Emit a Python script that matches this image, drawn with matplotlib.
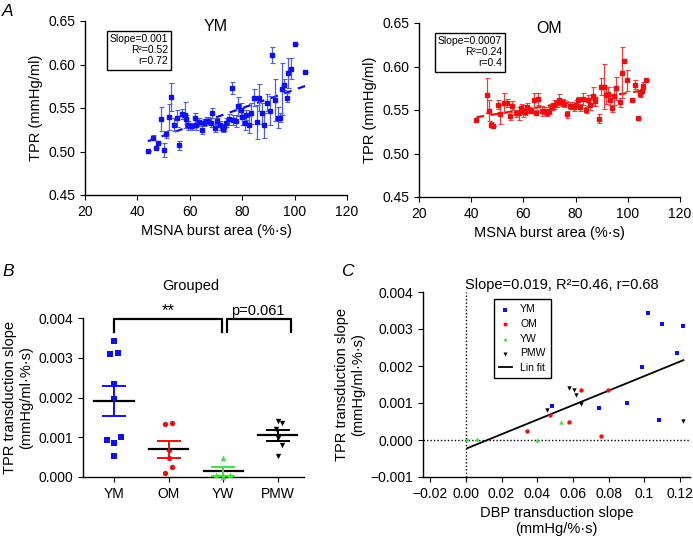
import numpy as np
import matplotlib
matplotlib.use("Agg")
import matplotlib.pyplot as plt

plt.rcParams['font.family'] = ['Liberation Sans', 'DejaVu Sans']
plt.rcParams['font.size'] = 10.5
plt.rcParams['xtick.labelsize'] = 10
plt.rcParams['ytick.labelsize'] = 10
plt.rcParams['axes.linewidth'] = 1.0
plt.rcParams['xtick.major.size'] = 3.5
plt.rcParams['ytick.major.size'] = 3.5

# Panel A: TPR vs MSNA burst area, young men (YM)
ym_area = [44, 46, 47, 48, 49, 50, 51, 52, 53, 54, 55, 56, 57, 58, 58.5, 59.5, 60, 61,
           62, 62.5, 63.5, 64.5, 65.5, 66, 67, 68, 68.5, 69.5, 70.5, 71.5, 72.5, 73, 74,
           75, 76, 76.5, 77.5, 78.5, 79.5, 80, 81, 81.5, 82.5, 83.5, 84.5, 85.5, 86.5,
           87.5, 88.5, 89.5, 90.5, 91.5, 92.5, 93.5, 94.5, 95, 96, 97, 97.5, 98.5, 100, 104]
ym_tpr = [0.501, 0.516, 0.504, 0.510, 0.537, 0.502, 0.520, 0.540, 0.563, 0.531, 0.538,
          0.507, 0.543, 0.542, 0.537, 0.530, 0.529, 0.529, 0.538, 0.530, 0.534, 0.525,
          0.533, 0.535, 0.535, 0.533, 0.544, 0.527, 0.535, 0.530, 0.526, 0.528, 0.533,
          0.537, 0.573, 0.536, 0.535, 0.552, 0.548, 0.540, 0.533, 0.542, 0.531, 0.544,
          0.562, 0.534, 0.562, 0.544, 0.530, 0.556, 0.547, 0.611, 0.559, 0.539, 0.539,
          0.572, 0.577, 0.562, 0.590, 0.595, 0.624, 0.591]
ym_err = [0, 0.003, 0, 0, 0.014, 0.008, 0.004, 0.015, 0.016, 0.008, 0.010, 0.005, 0.006,
          0.015, 0.005, 0.005, 0.004, 0.004, 0.006, 0.005, 0.005, 0.005, 0.004, 0.005,
          0.005, 0.005, 0.006, 0.005, 0.004, 0.005, 0.004, 0.004, 0.005, 0.006, 0.007,
          0.006, 0.007, 0.011, 0.008, 0.010, 0.008, 0.006, 0.010, 0.012, 0.010, 0.020,
          0.016, 0.012, 0.014, 0.010, 0.017, 0.009, 0.024, 0.012, 0.005, 0.030, 0.006,
          0.005, 0.017, 0.012, 0, 0]

# Panel A: older men (OM)
om_area = [42, 46, 47, 47.7, 48.3, 50.2, 51, 52.6, 53.6, 54.8, 55.8, 57.2, 58.2, 59, 59.7,
           60.6, 61.3, 62, 62.8, 64, 65, 65.7, 67, 68, 69, 69.7, 70.8, 71.8, 72.7, 73.7,
           74.6, 75.6, 76.8, 77.8, 78.6, 79.4, 80.2, 81, 81.8, 82.8, 83.8, 84.8, 85.6,
           86.6, 87.6, 88.8, 89.8, 90.7, 91.7, 92.5, 93, 93.9, 94.9, 95.5, 96.9, 97.7,
           98.7, 99.7, 101.7, 102.9, 103.9, 104.7, 105.4, 106, 106.9]
om_tpr = [0.538, 0.567, 0.549, 0.533, 0.532, 0.556, 0.545, 0.558, 0.558, 0.543, 0.555,
          0.546, 0.546, 0.552, 0.549, 0.548, 0.554, 0.550, 0.549, 0.561, 0.547, 0.563,
          0.549, 0.549, 0.547, 0.549, 0.554, 0.556, 0.558, 0.562, 0.559, 0.557, 0.545,
          0.555, 0.555, 0.553, 0.556, 0.561, 0.553, 0.563, 0.550, 0.561, 0.556, 0.566,
          0.560, 0.540, 0.577, 0.577, 0.567, 0.568, 0.561, 0.552, 0.566, 0.575, 0.559,
          0.593, 0.606, 0.584, 0.562, 0.579, 0.541, 0.568, 0.572, 0.578, 0.584]
om_err = [0, 0.020, 0.012, 0.003, 0, 0.005, 0.011, 0.011, 0.005, 0.005, 0.005, 0.004,
          0.007, 0.005, 0.007, 0.004, 0.004, 0.004, 0.003, 0.009, 0.003, 0.007, 0.006,
          0.004, 0.004, 0.004, 0.004, 0.005, 0.004, 0.006, 0.004, 0.004, 0.004, 0.004,
          0.004, 0.004, 0.005, 0.004, 0.004, 0.007, 0.004, 0.006, 0.006, 0.010, 0.005,
          0.005, 0.010, 0.026, 0.010, 0.008, 0.005, 0.004, 0.010, 0.013, 0.005, 0.029,
          0, 0.012, 0, 0.005, 0, 0.003, 0, 0.004, 0]

# Panels B and C: individual transduction slopes
groups = ['YM', 'OM', 'YW', 'PMW']
dbp_slopes = {
    'YM': [0.0482, 0.0744, 0.0901, 0.0987, 0.1022, 0.1080, 0.1099, 0.1185, 0.1219],
    'OM': [0.0340, 0.0471, 0.0580, 0.0647, 0.0794, 0.0759],
    'YW': [0.0009, 0.0065, 0.0396, 0.0531],
    'PMW': [0.0452, 0.0578, 0.0606, 0.0619, 0.0647, 0.1219],
}
tpr_slopes = {
    'YM': [0.00093, 0.00086, 0.00101, 0.00197, 0.00343, 0.00053, 0.00313, 0.00235, 0.00309],
    'OM': [0.00024, 0.00067, 0.00048, 0.00135, 0.00134, 0.00010],
    'YW': [0.00004, 0.00004, 0.00000, 0.00048],
    'PMW': [0.00080, 0.00141, 0.00136, 0.00121, 0.00097, 0.00052],
}

# styling (jitter offsets for the dot plot in B)
jitter = {
    'YM': [-0.13, 0, 0.13, 0, 0, 0, 0.07, 0, -0.07],
    'OM': [0.07, 0, 0, 0.07, -0.07, -0.07],
    'YW': [-0.13, 0.13, 0, 0],
    'PMW': [0.07, 0, 0.07, -0.04, 0, 0],
}
colors = {'YM': '#1010ee', 'OM': '#e81010', 'YW': '#44dd44', 'PMW': 'black'}
markers = {'YM': 's', 'OM': 'o', 'YW': '^', 'PMW': 'v'}

fig = plt.figure(figsize=(6.93, 5.36), dpi=100)
W, H = 693.0, 536.0


def px_axes(l, t, r, b):
    return fig.add_axes([l / W, 1 - b / H, (r - l) / W, (b - t) / H])


def clean(ax):
    ax.spines['top'].set_visible(False)
    ax.spines['right'].set_visible(False)


def panel_a(ax, x, y, err, col, ecol, title, box):
    x = np.array(x)
    y = np.array(y)
    ax.errorbar(x, y, yerr=err, fmt='s', ms=3.2, color=col, ecolor=ecol,
                elinewidth=0.9, capsize=1.8, capthick=0.8, zorder=3)
    k, c = np.polyfit(x, y, 1)
    xs = np.array([x.min(), x.max()])
    ax.plot(xs, k * xs + c, color=col, lw=1.6, dashes=(3.5, 3), zorder=2)
    ax.set_xlim(20, 120)
    ax.set_ylim(0.45, 0.65)
    ax.set_xticks([20, 40, 60, 80, 100, 120])
    ax.set_yticks([0.45, 0.50, 0.55, 0.60, 0.65])
    ax.yaxis.set_major_formatter(matplotlib.ticker.FormatStrFormatter('%.2f'))
    ax.set_xlabel('MSNA burst area (%·s)')
    ax.set_ylabel('TPR (mmHg/ml)')
    ax.text(0.5, 0.97, title, transform=ax.transAxes, ha='center', va='center', fontsize=11.5)
    ax.text(0.318, 0.925, box, transform=ax.transAxes, ha='right', va='top',
            fontsize=7.5, multialignment='right', linespacing=1.15,
            bbox=dict(boxstyle='square,pad=0.3', fc='white', ec='black', lw=1.0))
    clean(ax)


axA1 = px_axes(85, 21, 347, 195)
panel_a(axA1, ym_area, ym_tpr, ym_err, '#1010ee', '#5060e0', 'YM',
        'Slope=0.001\nR\u00b2=0.52\nr=0.72')
axA2 = px_axes(419, 23, 680, 197)
panel_a(axA2, om_area, om_tpr, om_err, '#e81010', '#e84040', 'OM',
        'Slope=0.0007\nR\u00b2=0.24\nr=0.4')

# Panel B
axB = px_axes(83, 318, 304, 477)
for i, g in enumerate(groups):
    vals = np.array(tpr_slopes[g])
    xs = i + np.array(jitter[g])
    ms = 15 if markers[g] != '^' else 17
    axB.scatter(xs, vals, marker=markers[g], s=ms, color=colors[g], lw=0,
                clip_on=False, zorder=3)
    m = vals.mean()
    sem = vals.std(ddof=1) / np.sqrt(len(vals))
    axB.plot([i - 0.36, i + 0.36], [m, m], color='black', lw=1.6, zorder=4)
    axB.errorbar([i], [m], yerr=[sem], fmt='none', ecolor=colors[g], elinewidth=1.4,
                 capsize=8.5, capthick=1.4, zorder=4)
axB.set_xlim(-0.57, 3.48)
axB.set_ylim(0, 0.004)
axB.set_xticks(range(len(groups)))
axB.set_xticklabels(groups)
axB.set_yticks([0, 0.001, 0.002, 0.003, 0.004])
axB.yaxis.set_major_formatter(matplotlib.ticker.FormatStrFormatter('%.3f'))
axB.set_ylabel('TPR transduction slope\n(mmHg/ml·%·s)')
axB.plot([0, 0, 1.97, 1.97], [0.00365, 0.00397, 0.00397, 0.00365], color='black',
         lw=1.6, clip_on=False)
axB.plot([2.06, 2.06, 3.24, 3.24], [0.00365, 0.00397, 0.00397, 0.00365], color='black',
         lw=1.6, clip_on=False)
axB.text(0.985, 0.00400, '**', ha='center', va='bottom', fontsize=12)
axB.text(2.64, 0.00400, 'p=0.061', ha='center', va='bottom')
axB.text(0.49, 1.20, 'Grouped', transform=axB.transAxes, ha='center', va='center')
clean(axB)

# Panel C
axC = px_axes(423, 292, 690, 477)
axC.axvline(0, color='black', lw=1.0, ls=(0, (1, 1.5)), zorder=1)
axC.axhline(0, color='black', lw=1.0, ls=(0, (1, 1.5)), zorder=1)
all_x, all_y = [], []
for g in groups:
    axC.scatter(dbp_slopes[g], tpr_slopes[g], marker=markers[g], s=10, color=colors[g],
                lw=0, label=g, zorder=3)
    all_x += dbp_slopes[g]
    all_y += tpr_slopes[g]
all_x = np.array(all_x)
all_y = np.array(all_y)
k, c = np.polyfit(all_x, all_y, 1)
xs = np.array([all_x.min(), all_x.max()])
axC.plot(xs, k * xs + c, color='black', lw=1.3, label='Lin fit', zorder=2)
axC.set_xlim(-0.024, 0.1256)
axC.set_ylim(-0.001, 0.004)
axC.set_xticks([-0.02, 0, 0.02, 0.04, 0.06, 0.08, 0.1, 0.12])
axC.set_xticklabels(['\u22120.02', '0.00', '0.02', '0.04', '0.06', '0.08', '0.1', '0.12'])
axC.set_yticks([-0.001, 0, 0.001, 0.002, 0.003, 0.004])
axC.set_yticklabels(['\u22120.001', '0.000', '0.001', '0.002', '0.003', '0.004'])
axC.set_xlabel('DBP transduction slope\n(mmHg/%·s)')
axC.set_ylabel('TPR transduction slope\n(mmHg/ml·%·s)')
axC.text(0.52, 1.04, 'Slope=0.019, R\u00b2=0.46, r=0.68', transform=axC.transAxes,
         ha='center', va='center')
leg = axC.legend(loc='upper left', bbox_to_anchor=(0.266, 0.962), borderaxespad=0,
                 fontsize=7.5, fancybox=False, edgecolor='black', framealpha=1,
                 handlelength=1.2, handletextpad=0.8, borderpad=0.5, labelspacing=0.45,
                 markerscale=0.9)
leg.get_frame().set_linewidth(1.0)
clean(axC)

for lab, x, y in [('A', 8, 12), ('B', 8, 272), ('C', 347, 272)]:
    fig.text(x / W, 1 - y / H, lab, style='italic', fontsize=12.5, ha='center', va='center')

fig.savefig('out.png', dpi=100)
